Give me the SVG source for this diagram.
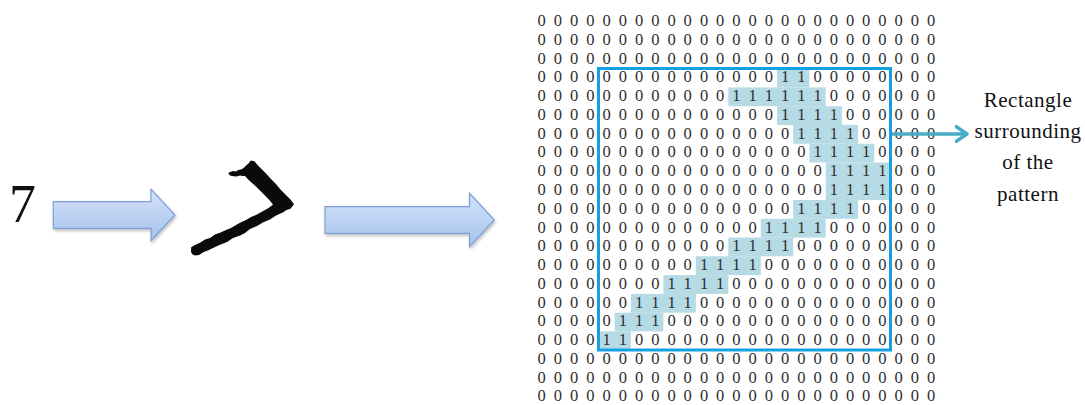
<svg xmlns="http://www.w3.org/2000/svg" width="1085" height="405" viewBox="0 0 1085 405">
  <defs>
    <linearGradient id="blockFill" x1="0" y1="0" x2="0" y2="1">
      <stop offset="0" stop-color="#d3e2f9"/>
      <stop offset="1" stop-color="#a7c2ee"/>
    </linearGradient>
    <filter id="softShadow" x="-10%" y="-20%" width="130%" height="150%">
      <feDropShadow dx="1" dy="2" stdDeviation="1.5" flood-color="#000" flood-opacity="0.25"/>
    </filter>
    <marker id="chevron" viewBox="0 0 14 18" refX="12" refY="9" markerWidth="14" markerHeight="18" markerUnits="userSpaceOnUse" orient="auto">
      <polyline points="1,1.5 12,9 1,16.5" fill="none" stroke="#4aabc6" stroke-width="3.4" stroke-linecap="round" stroke-linejoin="round"/>
    </marker>
  </defs>
  <style>
    .serif { font-family: "Liberation Serif", "Times New Roman", serif; }
    .digits { font-family: "Liberation Serif", "Times New Roman", serif; font-size: 16.5px; fill: #2e2e2e; text-anchor: middle; }
    .label { font-family: "Liberation Serif", "Times New Roman", serif; font-size: 21px; fill: #111; text-anchor: middle; letter-spacing: 0.5px; }
    .block { fill: url(#blockFill); stroke: #7f9fd4; stroke-width: 1.2; filter: url(#softShadow); }
    .cell { fill: #b6dbe5; }
    .frame { fill: none; stroke: #14a0e6; stroke-width: 3; }
  </style>

  <rect width="1085" height="405" fill="#ffffff"/>

  <!-- printed digit -->
  <g id="digit-seven">
    <text class="serif" x="9" y="222" font-size="54" fill="#111">7</text>
  </g>

  <!-- handwritten stroke -->
  <g id="handwritten">
    <path fill="#0a0a0a" d="M229.3,172.3 L233.3,171 L236,171.5 L238.3,170 L241,169.6 L243.3,168.3 L246.7,165 L248.5,163.5 L250.7,160.5 L254.5,161.2 L257.5,165 L260.5,168 L265.5,173 L270.5,178.5 L275.5,183.5 L280.5,189.5 L285.5,194.5 L290.5,199.5 L294,204.3 L290.5,208.8 L286.5,210 L283.3,212.2 L276,215.5 L270,219.5 L263.3,222.2 L257,226 L250,229 L245,233 L240,235.5 L233,238 L227,242 L220,244.8 L214,247.5 L209,250 L203.3,252.2 L199,255 L195,255.5 L192,254 L191,251.7 L191.2,247.2 L195,245 L200,242.8 L205,239.5 L210,238 L215,234.5 L220,232.8 L226,230 L231,228 L236,225 L240,222.8 L246,220 L251,217 L256,215 L260,212.8 L266,209.5 L270,207 L273,204.5 L270,200.8 L266.2,196.7 L261,191.5 L256.2,186.7 L252,183 L248,179.2 L245,176 L242.5,176 L240,175.5 L236.5,176.5 L233.3,176.2 L230,175.5 L228.3,173.5 Z"/>
  </g>

  <!-- binary grid with the highlighted pattern -->
  <g id="binary-grid">
    <g id="pattern-cells">
      <rect class="cell" x="777.0" y="68.6" width="32.4" height="18.8"/>
      <rect class="cell" x="728.3" y="87.4" width="97.3" height="18.8"/>
      <rect class="cell" x="777.0" y="106.2" width="64.9" height="18.8"/>
      <rect class="cell" x="793.2" y="124.9" width="64.9" height="18.8"/>
      <rect class="cell" x="809.4" y="143.7" width="64.9" height="18.8"/>
      <rect class="cell" x="825.7" y="162.5" width="64.9" height="18.8"/>
      <rect class="cell" x="825.7" y="181.2" width="64.9" height="18.8"/>
      <rect class="cell" x="793.2" y="200.0" width="64.9" height="18.8"/>
      <rect class="cell" x="760.8" y="218.8" width="64.9" height="18.8"/>
      <rect class="cell" x="728.3" y="237.5" width="64.9" height="18.8"/>
      <rect class="cell" x="695.9" y="256.3" width="64.9" height="18.8"/>
      <rect class="cell" x="663.4" y="275.1" width="64.9" height="18.8"/>
      <rect class="cell" x="631.0" y="293.9" width="64.9" height="18.8"/>
      <rect class="cell" x="614.7" y="312.6" width="48.7" height="18.8"/>
      <rect class="cell" x="598.5" y="331.4" width="32.4" height="18.8"/>
    </g>
    <g id="grid-values" class="digits">
      <text y="26.0" x="541.7 557.9 574.2 590.4 606.6 622.8 639.1 655.3 671.5 687.7 704.0 720.2 736.4 752.6 768.9 785.1 801.3 817.5 833.8 850.0 866.2 882.4 898.7 914.9 931.1">0000000000000000000000000</text>
      <text y="44.8" x="541.7 557.9 574.2 590.4 606.6 622.8 639.1 655.3 671.5 687.7 704.0 720.2 736.4 752.6 768.9 785.1 801.3 817.5 833.8 850.0 866.2 882.4 898.7 914.9 931.1">0000000000000000000000000</text>
      <text y="63.5" x="541.7 557.9 574.2 590.4 606.6 622.8 639.1 655.3 671.5 687.7 704.0 720.2 736.4 752.6 768.9 785.1 801.3 817.5 833.8 850.0 866.2 882.4 898.7 914.9 931.1">0000000000000000000000000</text>
      <text y="82.3" x="541.7 557.9 574.2 590.4 606.6 622.8 639.1 655.3 671.5 687.7 704.0 720.2 736.4 752.6 768.9 785.1 801.3 817.5 833.8 850.0 866.2 882.4 898.7 914.9 931.1">0000000000000001100000000</text>
      <text y="101.1" x="541.7 557.9 574.2 590.4 606.6 622.8 639.1 655.3 671.5 687.7 704.0 720.2 736.4 752.6 768.9 785.1 801.3 817.5 833.8 850.0 866.2 882.4 898.7 914.9 931.1">0000000000001111110000000</text>
      <text y="119.9" x="541.7 557.9 574.2 590.4 606.6 622.8 639.1 655.3 671.5 687.7 704.0 720.2 736.4 752.6 768.9 785.1 801.3 817.5 833.8 850.0 866.2 882.4 898.7 914.9 931.1">0000000000000001111000000</text>
      <text y="138.6" x="541.7 557.9 574.2 590.4 606.6 622.8 639.1 655.3 671.5 687.7 704.0 720.2 736.4 752.6 768.9 785.1 801.3 817.5 833.8 850.0 866.2 882.4 898.7 914.9 931.1">0000000000000000111100000</text>
      <text y="157.4" x="541.7 557.9 574.2 590.4 606.6 622.8 639.1 655.3 671.5 687.7 704.0 720.2 736.4 752.6 768.9 785.1 801.3 817.5 833.8 850.0 866.2 882.4 898.7 914.9 931.1">0000000000000000011110000</text>
      <text y="176.2" x="541.7 557.9 574.2 590.4 606.6 622.8 639.1 655.3 671.5 687.7 704.0 720.2 736.4 752.6 768.9 785.1 801.3 817.5 833.8 850.0 866.2 882.4 898.7 914.9 931.1">0000000000000000001111000</text>
      <text y="194.9" x="541.7 557.9 574.2 590.4 606.6 622.8 639.1 655.3 671.5 687.7 704.0 720.2 736.4 752.6 768.9 785.1 801.3 817.5 833.8 850.0 866.2 882.4 898.7 914.9 931.1">0000000000000000001111000</text>
      <text y="213.7" x="541.7 557.9 574.2 590.4 606.6 622.8 639.1 655.3 671.5 687.7 704.0 720.2 736.4 752.6 768.9 785.1 801.3 817.5 833.8 850.0 866.2 882.4 898.7 914.9 931.1">0000000000000000111100000</text>
      <text y="232.5" x="541.7 557.9 574.2 590.4 606.6 622.8 639.1 655.3 671.5 687.7 704.0 720.2 736.4 752.6 768.9 785.1 801.3 817.5 833.8 850.0 866.2 882.4 898.7 914.9 931.1">0000000000000011110000000</text>
      <text y="251.2" x="541.7 557.9 574.2 590.4 606.6 622.8 639.1 655.3 671.5 687.7 704.0 720.2 736.4 752.6 768.9 785.1 801.3 817.5 833.8 850.0 866.2 882.4 898.7 914.9 931.1">0000000000001111000000000</text>
      <text y="270.0" x="541.7 557.9 574.2 590.4 606.6 622.8 639.1 655.3 671.5 687.7 704.0 720.2 736.4 752.6 768.9 785.1 801.3 817.5 833.8 850.0 866.2 882.4 898.7 914.9 931.1">0000000000111100000000000</text>
      <text y="288.8" x="541.7 557.9 574.2 590.4 606.6 622.8 639.1 655.3 671.5 687.7 704.0 720.2 736.4 752.6 768.9 785.1 801.3 817.5 833.8 850.0 866.2 882.4 898.7 914.9 931.1">0000000011110000000000000</text>
      <text y="307.6" x="541.7 557.9 574.2 590.4 606.6 622.8 639.1 655.3 671.5 687.7 704.0 720.2 736.4 752.6 768.9 785.1 801.3 817.5 833.8 850.0 866.2 882.4 898.7 914.9 931.1">0000001111000000000000000</text>
      <text y="326.3" x="541.7 557.9 574.2 590.4 606.6 622.8 639.1 655.3 671.5 687.7 704.0 720.2 736.4 752.6 768.9 785.1 801.3 817.5 833.8 850.0 866.2 882.4 898.7 914.9 931.1">0000011100000000000000000</text>
      <text y="345.1" x="541.7 557.9 574.2 590.4 606.6 622.8 639.1 655.3 671.5 687.7 704.0 720.2 736.4 752.6 768.9 785.1 801.3 817.5 833.8 850.0 866.2 882.4 898.7 914.9 931.1">0000110000000000000000000</text>
      <text y="363.9" x="541.7 557.9 574.2 590.4 606.6 622.8 639.1 655.3 671.5 687.7 704.0 720.2 736.4 752.6 768.9 785.1 801.3 817.5 833.8 850.0 866.2 882.4 898.7 914.9 931.1">0000000000000000000000000</text>
      <text y="382.6" x="541.7 557.9 574.2 590.4 606.6 622.8 639.1 655.3 671.5 687.7 704.0 720.2 736.4 752.6 768.9 785.1 801.3 817.5 833.8 850.0 866.2 882.4 898.7 914.9 931.1">0000000000000000000000000</text>
      <text y="401.4" x="541.7 557.9 574.2 590.4 606.6 622.8 639.1 655.3 671.5 687.7 704.0 720.2 736.4 752.6 768.9 785.1 801.3 817.5 833.8 850.0 866.2 882.4 898.7 914.9 931.1">0000000000000000000000000</text>
    </g>
    <rect id="bounding-frame" class="frame" x="598.5" y="68.5" width="292" height="281.5"/>
  </g>

  <!-- caption -->
  <g id="caption">
    <text class="label" x="1028" y="106.5">Rectangle</text>
    <text class="label" x="1028" y="137.5">surrounding</text>
    <text class="label" x="1028" y="169">of the</text>
    <text class="label" x="1028" y="200.5">pattern</text>
  </g>

  <!-- connectors -->
  <g id="connectors">
    <path id="block-arrow-1" class="block" d="M53.3,201.7 H151 V189.3 L175,215 L151,240.7 V228.3 H53.3 Z"/>
    <path id="block-arrow-2" class="block" d="M325,206.7 H469.5 V193.3 L494.3,220 L469.5,246.7 V233.3 H325 Z"/>
    <line id="frame-to-caption" x1="892" y1="134" x2="967" y2="134" stroke="#4aabc6" stroke-width="3.4" marker-end="url(#chevron)"/>
  </g>
</svg>
